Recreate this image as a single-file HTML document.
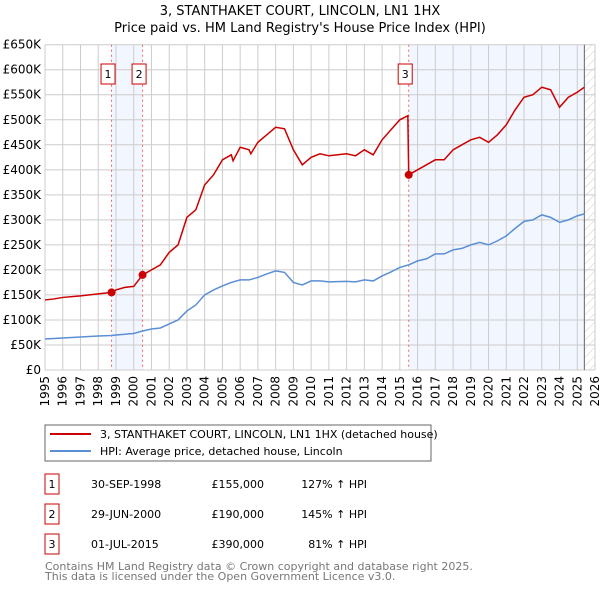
<!DOCTYPE html>
<html><head><meta charset="utf-8"><style>
body{margin:0;background:#fff;font-family:"DejaVu Sans","Liberation Sans",sans-serif;}
svg{display:block}
</style></head><body>
<svg id="c" width="600" height="590" xmlns="http://www.w3.org/2000/svg" font-family="DejaVu Sans, Liberation Sans, sans-serif">
<defs><pattern id="hatch" width="6" height="6" patternUnits="userSpaceOnUse" patternTransform="rotate(45)"><line x1="0" y1="0" x2="0" y2="6" stroke="#ccc" stroke-width="1"/></pattern></defs>
<text x="300" y="15" text-anchor="middle" font-size="13">3, STANTHAKET COURT, LINCOLN, LN1 1HX</text>
<text x="300" y="32" text-anchor="middle" font-size="13">Price paid vs. HM Land Registry's House Price Index (HPI)</text>
<g id="plot"></g>
<rect x="45" y="425" width="386" height="36" fill="#fff" stroke="#666"/>
<line x1="50" y1="434" x2="91" y2="434" stroke="#cc0000" stroke-width="2"/>
<text x="100" y="438" font-size="11">3, STANTHAKET COURT, LINCOLN, LN1 1HX (detached house)</text>
<line x1="50" y1="451" x2="91" y2="451" stroke="#5b8fd4" stroke-width="2"/>
<text x="100" y="455" font-size="11">HPI: Average price, detached house, Lincoln</text>
<g id="tbl" font-size="11"></g>
<text x="45" y="570" font-size="11" fill="#777">Contains HM Land Registry data © Crown copyright and database right 2025.</text>
<text x="45" y="580" font-size="11" fill="#777">This data is licensed under the Open Government Licence v3.0.</text>
</svg>
<script>
const hpiYears=[1995,1996,1997,1998,1998.75,1999,2000,2000.5,2001,2001.5,2002,2002.5,2003,2003.5,2004,2004.5,2005,2005.5,2006,2006.5,2007,2007.5,2008,2008.5,2009,2009.5,2010,2010.5,2011,2012,2012.5,2013,2013.5,2014,2014.5,2015,2015.5,2016,2016.5,2017,2017.5,2018,2018.5,2019,2019.5,2020,2020.5,2021,2021.5,2022,2022.5,2023,2023.5,2024,2024.5,2025,2025.4];
const hpiValues=[62,64,66,68,69,70,73,78,82,84,92,100,118,130,150,160,168,175,180,180,185,192,198,195,175,170,178,178,176,177,176,180,178,188,196,205,210,218,222,232,232,240,243,250,255,250,258,268,283,297,300,310,305,295,300,308,312];
const redYears=[1995,1995.5,1996,1997,1998,1998.75,1999,1999.5,2000,2000.5,2001,2001.5,2002,2002.5,2003,2003.5,2004,2004.5,2005,2005.5,2005.6,2006,2006.5,2006.6,2007,2007.5,2008,2008.5,2009,2009.5,2010,2010.5,2011,2012,2012.5,2013,2013.5,2014,2014.5,2015,2015.45,2015.5,2016,2016.5,2017,2017.5,2018,2018.5,2019,2019.5,2020,2020.5,2021,2021.5,2022,2022.5,2023,2023.5,2024,2024.5,2025,2025.4];
const redValues=[140,142,145,148,152,155,160,165,167,190,200,210,235,250,305,320,370,390,420,430,418,445,440,432,455,470,485,482,440,410,425,432,428,432,428,440,430,460,480,500,508,390,400,410,420,420,440,450,460,465,455,470,490,520,545,550,565,560,525,545,555,565];
const saleYears=[1998.75,2000.5,2015.5];
const saleValues=[155,190,390];
const saleLabels=["1","2","3"];
const saleDates=["30-SEP-1998","29-JUN-2000","01-JUL-2015"];
const salePrices=["£155,000","£190,000","£390,000"];
const saleHpi=["127% ↑ HPI","145% ↑ HPI","81% ↑ HPI"];
const yTicks=[0,50,100,150,200,250,300,350,400,450,500,550,600,650];
const xTicks=[1995,1996,1997,1998,1999,2000,2001,2002,2003,2004,2005,2006,2007,2008,2009,2010,2011,2012,2013,2014,2015,2016,2017,2018,2019,2020,2021,2022,2023,2024,2025,2026];
const endYear=2025.4;
const L=45,R=595,T=44.7,B=370;
const X=y=>L+(y-1995)/(2026-1995)*(R-L);
const Y=v=>B-v/650*(B-T);
const NS="http://www.w3.org/2000/svg";
const g=document.getElementById('plot');
function mk(t,a,p){const e=document.createElementNS(NS,t);for(const k in a)e.setAttribute(k,a[k]);(p||g).appendChild(e);return e;}
let e;
e=mk('rect',{x:X(saleYears[0]),y:T,width:X(saleYears[1])-X(saleYears[0]),height:B-T,fill:'#f2f6fe'});


e=mk('rect',{x:X(saleYears[2]),y:T,width:X(endYear)-X(saleYears[2]),height:B-T,fill:'#f2f6fe'});


e=mk('rect',{x:X(endYear),y:T,width:R-X(endYear),height:B-T,fill:'url(#hatch)'});


yTicks.forEach(v=>{
 e=mk('line',{x1:L,x2:R,y1:Y(v),y2:Y(v),stroke:'#ccc'});
 
 
 e=mk('text',{x:L-4,y:Y(v)+4,'text-anchor':'end','font-size':12});
 e.textContent=v===0?'£0':'£'+v+'K';
 
 
});
xTicks.forEach(y=>{
 e=mk('line',{x1:X(y),x2:X(y),y1:T,y2:B,stroke:'#ccc'});
 
 
 e=mk('text',{x:0,y:0,'text-anchor':'end','font-size':12,transform:`translate(${X(y)+4},${B+6}) rotate(-90)`});
 e.textContent=y;
 
 
});
e=mk('line',{x1:X(endYear),x2:X(endYear),y1:T,y2:B,stroke:'#666'});


saleYears.forEach((s,i)=>{
 e=mk('line',{x1:X(s),x2:X(s),y1:T,y2:B,stroke:'#e66','stroke-dasharray':'2,3'});
 
 
});
e=mk('polyline',{points:hpiYears.map((y,i)=>X(y)+','+Y(hpiValues[i])).join(' '),fill:'none',stroke:'#5b8fd4','stroke-width':1.5});


e=mk('polyline',{points:redYears.map((y,i)=>X(y)+','+Y(redValues[i])).join(' '),fill:'none',stroke:'#cc0000','stroke-width':1.5});


saleYears.forEach((s,i)=>{
 e=mk('circle',{cx:X(s),cy:Y(saleValues[i]),r:4,fill:'#cc0000'});
 
 
 e=mk('rect',{x:X(s)-10.5,y:64,width:14,height:20,fill:'#fff',stroke:'#cc0000'});
 
 
 e=mk('text',{x:X(s)-3.5,y:78,'text-anchor':'middle','font-size':11});
 e.textContent=saleLabels[i];
 
 
});
const tb=document.getElementById('tbl');
saleLabels.forEach((l,i)=>{
 const cy=483+i*30;
 e=mk('rect',{x:45,y:cy-9,width:14,height:20,fill:'#fff',stroke:'#cc0000'},tb);
 
 
 const cols=[[52,l,'middle'],[91,saleDates[i],'start'],[264,salePrices[i],'end'],[367,saleHpi[i],'end']];
 cols.forEach((c,j)=>{
  e=mk('text',{x:c[0],y:cy+5,'text-anchor':c[2]},tb);
  e.textContent=c[1];
  
  
 });
});
</script>
</body></html>
